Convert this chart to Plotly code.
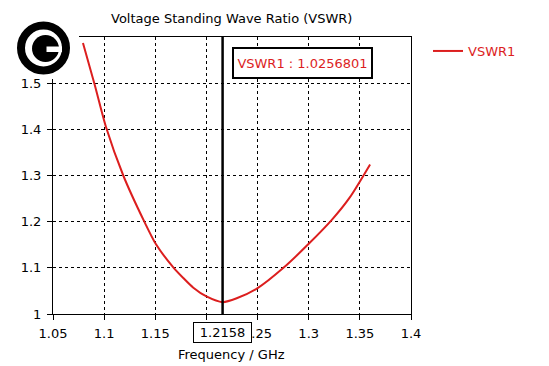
import plotly.graph_objects as go

# ---- data ----
freq_ghz = [1.0793, 1.0907, 1.1018, 1.1187, 1.1393, 1.1507, 1.168, 1.1774, 1.1872,
            1.200, 1.2158, 1.2296, 1.250, 1.2753, 1.300, 1.323, 1.340, 1.360]
vswr = [1.587, 1.497, 1.405, 1.300, 1.200, 1.151, 1.100, 1.078, 1.057,
        1.038, 1.0257, 1.034, 1.056, 1.100, 1.152, 1.205, 1.252, 1.324]
series_name = "VSWR1"
marker_freq = 1.2158
marker_vswr = 1.0256801
x_ticks = [1.05, 1.1, 1.15, 1.2, 1.25, 1.3, 1.35, 1.4]
x_tick_labels = ["1.05", "1.1", "1.15", "1.2", "1.25", "1.3", "1.35", "1.4"]
y_ticks = [1.0, 1.1, 1.2, 1.3, 1.4, 1.5, 1.6]
y_tick_labels = ["1", "1.1", "1.2", "1.3", "1.4", "1.5", "1.6"]
title_text = "Voltage Standing Wave Ratio (VSWR)"
x_title = "Frequency / GHz"

OFF = 8  # page body margin
W, H = 549 - OFF, 366 - OFF
L, R, T, B = 53 - OFF, 411 - OFF, 37 - OFF, 314 - OFF
FONT = "DejaVu Sans"
FS = 13
RED = "#dc1e1e"

def px(xs):
    return (xs - OFF - L) / (R - L)

def py(ys):
    return (B - (ys - OFF)) / (B - T)

fig = go.Figure()
fig.add_trace(go.Scatter(x=freq_ghz, y=vswr, mode="lines", name=series_name,
                         line=dict(color=RED, width=2, shape="spline", smoothing=0.7)))
fig.add_trace(go.Scatter(x=[marker_freq, marker_freq], y=[y_ticks[0], y_ticks[-1]],
                         mode="lines", showlegend=False, hoverinfo="skip",
                         line=dict(color="black", width=2.5)))

axis_common = dict(showline=True, linecolor="black", linewidth=1, mirror=True,
                   ticks="outside", ticklen=5, tickcolor="black", tickwidth=1,
                   showgrid=True, gridcolor="black", gridwidth=1, griddash="3px,3px",
                   zeroline=False, tickfont=dict(family=FONT, size=FS, color="black"))

fig.update_xaxes(range=[x_ticks[0], x_ticks[-1]], tickvals=x_ticks, ticktext=x_tick_labels,
                 ticklabelstandoff=2, **axis_common)
fig.update_yaxes(range=[y_ticks[0], y_ticks[-1]], tickvals=y_ticks, ticktext=y_tick_labels,
                 ticklabelstandoff=3, **axis_common)

shapes = [
    # white patch behind logo
    dict(type="rect", xref="paper", yref="paper", x0=px(0), x1=px(79), y0=py(79), y1=py(0),
         fillcolor="white", line=dict(width=0), layer="above"),
    # outer ring
    dict(type="circle", xref="paper", yref="paper",
         x0=px(43.5 - 22.5), x1=px(43.5 + 22.5), y0=py(48 + 22.5), y1=py(48 - 22.5),
         line=dict(color="black", width=8), fillcolor="rgba(0,0,0,0)", layer="above"),
    # inner C disk
    dict(type="circle", xref="paper", yref="paper",
         x0=px(45.5 - 13.5), x1=px(45.5 + 13.5), y0=py(48.5 + 13.5), y1=py(48.5 - 13.5),
         line=dict(width=0), fillcolor="black", layer="above"),
    # notch in C
    dict(type="rect", xref="paper", yref="paper",
         x0=px(46.5), x1=px(62), y0=py(52), y1=py(46.5),
         line=dict(width=0), fillcolor="white", layer="above"),
]

annotations = [
    dict(text=title_text, xref="paper", yref="paper", x=px(231), y=py(19),
         showarrow=False, xanchor="center", yanchor="middle",
         font=dict(family=FONT, size=FS, color="black")),
    dict(text=x_title, xref="paper", yref="paper", x=px(231), y=py(355),
         showarrow=False, xanchor="center", yanchor="middle",
         font=dict(family=FONT, size=FS, color="black")),
    dict(text=f"{series_name} : {marker_vswr:.7f}", xref="paper", yref="paper",
         x=px(302.5), y=py(63), showarrow=False, xanchor="center", yanchor="middle",
         width=133, height=24, borderpad=2, borderwidth=2, bordercolor="black",
         bgcolor="white", font=dict(family=FONT, size=FS, color=RED)),
    dict(text=f"{marker_freq:.4f}", xref="x", yref="paper",
         x=marker_freq, y=py(332.5), showarrow=False, xanchor="center", yanchor="middle",
         width=53, height=15, borderpad=2, borderwidth=1, bordercolor="black",
         bgcolor="white", font=dict(family=FONT, size=FS, color="black")),
]

fig.update_layout(
    width=W, height=H,
    margin=dict(l=L, r=W - R, t=T, b=H - B),
    paper_bgcolor="white", plot_bgcolor="white",
    showlegend=True,
    legend=dict(x=px(428), y=py(51), xanchor="left", yanchor="middle",
                bgcolor="rgba(0,0,0,0)", borderwidth=0,
                font=dict(family=FONT, size=FS, color=RED)),
    shapes=shapes, annotations=annotations,
)

fig.write_html("out.html")
